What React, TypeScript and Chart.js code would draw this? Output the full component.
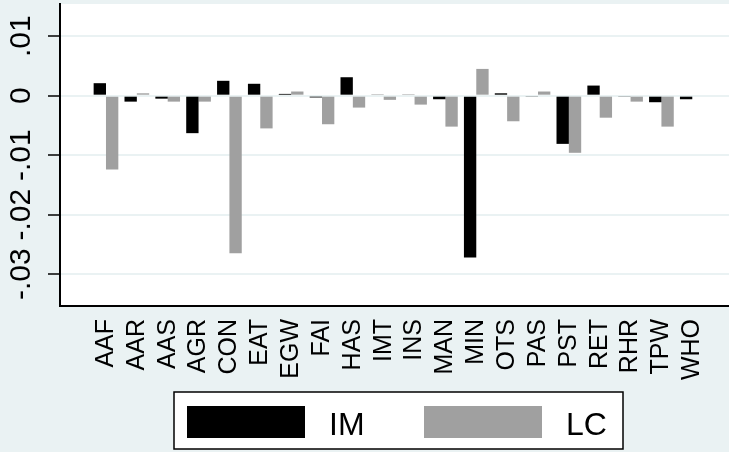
import React, { useEffect, useRef } from "react";
import { Chart, registerables } from "chart.js";

Chart.register(...registerables);

const categories = ["AAF", "AAR", "AAS", "AGR", "CON", "EAT", "EGW", "FAI", "HAS", "IMT", "INS", "MAN", "MIN", "OTS", "PAS", "PST", "RET", "RHR", "TPW", "WHO"];
const imValues = [0.0021, -0.001, -0.0005, -0.0063, 0.0025, 0.002, 0.0003, -0.0003, 0.0031, 0.0002, 0.0002, -0.0006, -0.0272, 0.0004, -0.0002, -0.0081, 0.0017, -0.0002, -0.0011, -0.0006];
const lcValues = [-0.0124, 0.0004, -0.001, -0.001, -0.0265, -0.0055, 0.0007, -0.0048, -0.002, -0.0007, -0.0015, -0.0052, 0.0045, -0.0043, 0.0007, -0.0096, -0.0037, -0.001, -0.0052, 0];
const seriesNames = ["IM", "LC"];
const yTickValues = [-0.03, -0.02, -0.01, 0, 0.01];
const yTickLabels = ["-.03", "-.02", "-.01", "0", ".01"];

const BG = "#EAF2F3";
const FONT = "'Liberation Sans', Arial, Helvetica, sans-serif";

const backgroundPlugin = {
  id: "bgPlugin",
  beforeDraw(chart: any) {
    const { ctx, chartArea } = chart;
    ctx.save();
    ctx.fillStyle = BG;
    ctx.fillRect(0, 0, chart.width, chart.height);
    ctx.fillStyle = "#ffffff";
    ctx.fillRect(chartArea.left, chartArea.top, chartArea.right - chartArea.left, chartArea.bottom - chartArea.top);
    ctx.restore();
  },
};

const legendPlugin = {
  id: "boxLegend",
  afterDraw(chart: any) {
    const { ctx } = chart;
    const ds = chart.data.datasets;
    ctx.save();
    ctx.fillStyle = "#ffffff";
    ctx.fillRect(174, 392, 449, 57);
    ctx.strokeStyle = "#000";
    ctx.lineWidth = 1.5;
    ctx.strokeRect(174, 392, 449, 57);
    const swatchX = [187, 424];
    const textX = [329, 566];
    ctx.font = `32px ${FONT}`;
    ctx.textBaseline = "alphabetic";
    ctx.textAlign = "left";
    ds.forEach((d: any, i: number) => {
      ctx.fillStyle = d.backgroundColor;
      ctx.fillRect(swatchX[i], 406, 118, 32);
      ctx.fillStyle = "#000";
      ctx.fillText(d.label, textX[i], 434.5);
    });
    ctx.restore();
  },
};

export default function App() {
  const ref = useRef<HTMLCanvasElement | null>(null);

  useEffect(() => {
    document.body.style.margin = "0";
    const canvas = ref.current;
    if (!canvas) return;
    const chart = new Chart(canvas, {
      type: "bar",
      data: {
        datasets: [
          {
            label: seriesNames[0],
            data: imValues.map((v, i) => ({ x: i, y: v })),
            backgroundColor: "#000000",
            borderWidth: 0,
            categoryPercentage: 0.8,
            barPercentage: 1.0,
          },
          {
            label: seriesNames[1],
            data: lcValues.map((v, i) => ({ x: i, y: v })),
            backgroundColor: "#A0A0A0",
            borderWidth: 0,
            categoryPercentage: 0.8,
            barPercentage: 1.0,
          },
        ],
      },
      options: {
        responsive: false,
        animation: false,
        devicePixelRatio: 1,
        layout: { padding: { top: 4, left: 0, right: 0, bottom: 0 } },
        plugins: {
          legend: { display: false },
          tooltip: { enabled: false },
        },
        scales: {
          x: {
            type: "linear",
            offset: false,
            min: -1.49,
            max: 20.19,
            grid: { display: false, drawTicks: false, offset: false },
            border: { display: true, color: "#000", width: 2 },
            afterBuildTicks: (s: any) => {
              s.ticks = categories.map((_, i) => ({ value: i }));
            },
            afterFit: (s: any) => {
              s.height = 146;
              s.paddingLeft = 0;
              s.paddingRight = 0;
              s.paddingTop = 0;
              s.paddingBottom = 0;
            },
            ticks: {
              autoSkip: false,
              minRotation: 90,
              maxRotation: 90,
              padding: 13,
              color: "#000",
              font: { family: FONT, size: 25 },
              callback: (_v: any, i: number) => categories[i],
            },
          },
          y: {
            type: "linear",
            min: -0.03535,
            max: 0.01541,
            grid: {
              color: BG,
              lineWidth: 2,
              drawTicks: true,
              tickLength: 12,
              tickColor: "#000",
              tickWidth: 1.5,
            },
            border: { display: true, color: "#000", width: 2 },
            afterBuildTicks: (s: any) => {
              s.ticks = yTickValues.map((v) => ({ value: v }));
            },
            afterFit: (s: any) => {
              s.width = 60;
              s.paddingLeft = 0;
              s.paddingRight = 0;
              s.paddingTop = 0;
              s.paddingBottom = 0;
            },
            ticks: {
              minRotation: 90,
              maxRotation: 90,
              crossAlign: "center",
              padding: 0,
              color: "#000",
              font: { family: FONT, size: 30 },
              callback: (_v: any, i: number) => yTickLabels[i],
            },
          },
        },
      },
      plugins: [backgroundPlugin, legendPlugin],
    } as any);
    return () => chart.destroy();
  }, []);

  return (
    <div style={{ width: 729, height: 452, position: "relative" }}>
      <canvas ref={ref} width={729} height={452} style={{ display: "block" }} />
    </div>
  );
}
